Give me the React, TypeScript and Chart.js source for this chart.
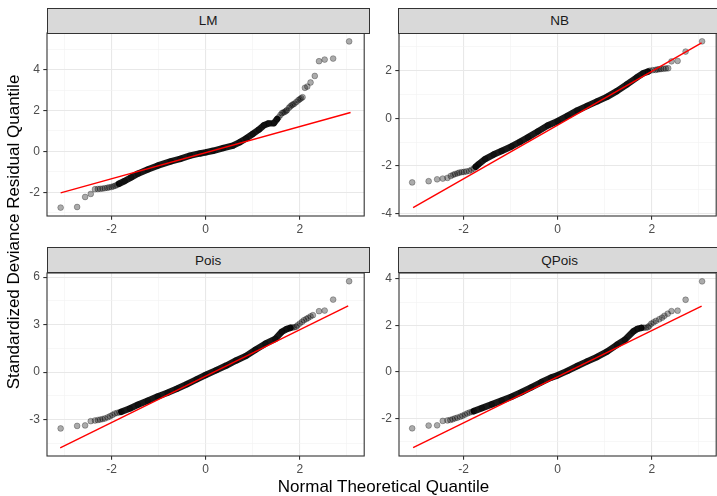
import React, { useEffect, useRef } from "react";
import { Chart, registerables } from "chart.js";

Chart.register(...registerables);

// ---------- data (normal theoretical quantile, standardized deviance residual) ----------
// LM
const lmLowX = [-3.08, -2.73, -2.56, -2.44, -2.35, -2.29, -2.24, -2.19, -2.14, -2.09, -2.05, -2.0, -1.96, -1.92, -1.88];
const lmLowY = [-2.75, -2.72, -2.23, -2.08, -1.85, -1.84, -1.83, -1.82, -1.8, -1.78, -1.76, -1.74, -1.71, -1.68, -1.64];
const lmBodyX = [-1.84, -1.72, -1.58, -1.44, -1.23, -1.02, -0.74, -0.54, -0.33, -0.12, 0, 0.16, 0.37, 0.58, 0.72, 0.86, 1.0, 1.13, 1.24, 1.34, 1.45, 1.52];
const lmBodyY = [-1.58, -1.45, -1.27, -1.09, -0.89, -0.7, -0.49, -0.37, -0.21, -0.1, -0.05, 0.03, 0.16, 0.28, 0.44, 0.63, 0.85, 1.06, 1.28, 1.37, 1.38, 1.58];
const lmHighX = [1.55, 1.59, 1.62, 1.65, 1.68, 1.71, 1.73, 1.77, 1.8, 1.83, 1.86, 1.89, 1.93, 1.97, 2.0, 2.03, 2.06, 2.11, 2.16, 2.23, 2.32, 2.41, 2.53, 2.71, 3.05];
const lmHighY = [1.66, 1.78, 1.87, 1.9, 1.93, 1.98, 2.02, 2.13, 2.2, 2.26, 2.3, 2.34, 2.42, 2.5, 2.55, 2.6, 2.65, 3.11, 3.17, 3.37, 3.69, 4.41, 4.49, 4.54, 5.38];
const lmRefX = [-3.08, 3.08];
const lmRefY = [-2.03, 1.9];

// NB
const nbLowX = [-3.09, -2.74, -2.56, -2.44, -2.34, -2.27, -2.22, -2.18, -2.13, -2.09, -2.04, -1.99, -1.94, -1.88, -1.83, -1.78];
const nbLowY = [-2.69, -2.64, -2.56, -2.53, -2.5, -2.42, -2.37, -2.34, -2.31, -2.28, -2.26, -2.25, -2.23, -2.21, -2.16, -2.11];
const nbBodyX = [-1.74, -1.68, -1.54, -1.36, -1.19, -0.98, -0.8, -0.63, -0.42, -0.21, 0, 0.21, 0.42, 0.63, 0.84, 1.05, 1.26, 1.47, 1.68, 1.82, 1.92];
const nbBodyY = [-2.03, -1.93, -1.71, -1.52, -1.37, -1.18, -0.99, -0.8, -0.55, -0.3, -0.12, 0.1, 0.33, 0.52, 0.71, 0.9, 1.14, 1.42, 1.71, 1.89, 1.96];
const nbHighX = [1.96, 2.02, 2.08, 2.12, 2.16, 2.2, 2.25, 2.3, 2.35, 2.42, 2.55, 2.72, 3.07];
const nbHighY = [2.0, 2.02, 2.03, 2.05, 2.06, 2.07, 2.08, 2.09, 2.1, 2.39, 2.41, 2.8, 3.23];
const nbRefX = [-3.07, 3.06];
const nbRefY = [-3.75, 3.17];

// Pois
const poisLowX = [-3.08, -2.73, -2.56, -2.44, -2.35, -2.29, -2.24, -2.19, -2.14, -2.08, -2.03, -1.98, -1.93, -1.88, -1.83];
const poisLowY = [-3.55, -3.39, -3.36, -3.09, -3.05, -3.02, -2.99, -2.96, -2.92, -2.85, -2.78, -2.7, -2.61, -2.57, -2.53];
const poisBodyX = [-1.79, -1.61, -1.44, -1.23, -1.02, -0.81, -0.61, -0.4, -0.19, 0, 0.23, 0.44, 0.65, 0.86, 1.06, 1.27, 1.48, 1.62, 1.72, 1.8];
const poisBodyY = [-2.5, -2.29, -2.06, -1.8, -1.53, -1.3, -1.05, -0.76, -0.45, -0.18, 0.13, 0.42, 0.74, 1.03, 1.42, 1.8, 2.1, 2.55, 2.72, 2.8];
const poisHighX = [1.84, 1.88, 1.92, 1.95, 2.0, 2.05, 2.09, 2.14, 2.18, 2.23, 2.28, 2.41, 2.53, 2.71, 3.05];
const poisHighY = [2.82, 2.83, 2.86, 2.95, 3.07, 3.18, 3.28, 3.36, 3.43, 3.52, 3.6, 3.85, 3.89, 4.58, 5.74];
const poisRefX = [-3.09, 3.03];
const poisRefY = [-4.77, 4.18];

// QPois
const qpLowX = [-3.09, -2.74, -2.56, -2.44, -2.34, -2.28, -2.23, -2.18, -2.13, -2.07, -2.02, -1.97, -1.92, -1.87, -1.82];
const qpLowY = [-2.43, -2.31, -2.3, -2.11, -2.09, -2.07, -2.04, -2.0, -1.97, -1.93, -1.89, -1.84, -1.79, -1.75, -1.72];
const qpBodyX = [-1.78, -1.61, -1.4, -1.19, -0.98, -0.77, -0.56, -0.35, -0.14, 0, 0.21, 0.42, 0.63, 0.84, 1.05, 1.26, 1.43, 1.61, 1.7, 1.78];
const qpBodyY = [-1.69, -1.56, -1.4, -1.24, -1.07, -0.88, -0.67, -0.45, -0.25, -0.15, 0.04, 0.25, 0.45, 0.64, 0.87, 1.16, 1.38, 1.74, 1.85, 1.89];
const qpHighX = [1.83, 1.88, 1.92, 1.95, 1.99, 2.04, 2.09, 2.16, 2.22, 2.27, 2.34, 2.42, 2.55, 2.72, 3.07];
const qpHighY = [1.9, 1.9, 1.92, 1.98, 2.07, 2.13, 2.19, 2.26, 2.33, 2.41, 2.5, 2.61, 2.63, 3.1, 3.89];
const qpRefX = [-3.07, 3.06];
const qpRefY = [-3.26, 2.83];

// axis settings
const xLimits = [-3.37, 3.37];
const xTickStep = 1;
const xMajorStep = 2;
const panelNames = ["LM", "NB", "Pois", "QPois"];
const yLimits = [
  [-3.16, 5.79],
  [-4.1, 3.58],
  [-5.29, 6.26],
  [-3.62, 4.25],
];
const yTickSteps = [1, 1, 1.5, 1];
const yMajorSteps = [2, 2, 3, 2];
const xTitle = "Normal Theoretical Quantile";
const yTitle = "Standardized Deviance Residual Quantile";

// ---------- layout ----------
const FONT = '"Liberation Sans", Arial, Helvetica, sans-serif';
const PW = 322.3; // panel width
const PH = 183; // panel height
const AXW = 40; // y-axis area width
const XAH = 26; // x-axis area height
const PADT = 12; // extra room above the panel for tick labels
const STRIP_H = 25.6;
const panelPos = [
  { left: 47, top: 33.3 },
  { left: 398.5, top: 33.3 },
  { left: 47, top: 272.7 },
  { left: 398.5, top: 272.7 },
];

const zip = (xs: number[], ys: number[]) => xs.map((x, i) => ({ x, y: ys[i] }));

const panelData = [
  { low: zip(lmLowX, lmLowY), body: zip(lmBodyX, lmBodyY), high: zip(lmHighX, lmHighY), ref: zip(lmRefX, lmRefY) },
  { low: zip(nbLowX, nbLowY), body: zip(nbBodyX, nbBodyY), high: zip(nbHighX, nbHighY), ref: zip(nbRefX, nbRefY) },
  { low: zip(poisLowX, poisLowY), body: zip(poisBodyX, poisBodyY), high: zip(poisHighX, poisHighY), ref: zip(poisRefX, poisRefY) },
  { low: zip(qpLowX, qpLowY), body: zip(qpBodyX, qpBodyY), high: zip(qpHighX, qpHighY), ref: zip(qpRefX, qpRefY) },
];

const isMajor = (v: number, step: number) => Math.abs(v / step - Math.round(v / step)) < 1e-6;

const borderPlugin = {
  id: "panelBorder",
  afterDraw(chart: any) {
    const { ctx, chartArea } = chart;
    ctx.save();
    ctx.strokeStyle = "#333333";
    ctx.lineWidth = 1.1;
    ctx.strokeRect(chartArea.left, chartArea.top, chartArea.right - chartArea.left, chartArea.bottom - chartArea.top);
    ctx.restore();
  },
};

function Panel({ idx }: { idx: number }) {
  const ref = useRef<HTMLCanvasElement>(null);
  const pos = panelPos[idx];
  const d = panelData[idx];

  useEffect(() => {
    if (!ref.current) return;
    const yMajor = yMajorSteps[idx];
    const gridOpts = (major: number) => ({
      color: (c: any) => (c.tick && isMajor(c.tick.value, major) ? "#e8e8e8" : "#f2f2f2"),
      lineWidth: (c: any) => (c.tick && isMajor(c.tick.value, major) ? 1.1 : 0.6),
      tickColor: (c: any) => (c.tick && isMajor(c.tick.value, major) ? "#333333" : "rgba(0,0,0,0)"),
      tickWidth: 1.1,
      tickLength: 3.7,
      drawTicks: true,
      drawOnChartArea: true,
    });
    const tickFont = { family: FONT, size: 12 };
    const chart = new Chart(ref.current, {
      type: "scatter",
      data: {
        datasets: [
          {
            type: "line",
            label: "reference",
            data: d.ref,
            borderColor: "#ff0000",
            borderWidth: 1.4,
            pointRadius: 0,
            showLine: true,
          } as any,
          {
            label: "points",
            data: [...d.low, ...d.body, ...d.high],
            pointBackgroundColor: "rgba(0,0,0,0.33)",
            pointBorderColor: "rgba(0,0,0,0.36)",
            pointBorderWidth: 0.8,
            pointRadius: 2.9,
            showLine: false,
          },
          {
            type: "line",
            label: "dense",
            data: d.body,
            borderColor: "rgba(0,0,0,0.9)",
            borderWidth: 6.5,
            borderCapStyle: "round",
            borderJoinStyle: "round",
            pointRadius: 0,
            showLine: true,
            tension: 0,
          } as any,
        ],
      },
      options: {
        animation: false,
        responsive: false,
        devicePixelRatio: 1,
        layout: { padding: { top: PADT, left: 0, right: 0, bottom: 0 } },
        plugins: { legend: { display: false }, tooltip: { enabled: false }, title: { display: false } },
        scales: {
          x: {
            type: "linear",
            position: "bottom",
            min: xLimits[0],
            max: xLimits[1],
            border: { display: false },
            grid: gridOpts(xMajorStep) as any,
            ticks: {
              stepSize: xTickStep,
              includeBounds: false,
              autoSkip: false,
              maxRotation: 0,
              padding: 2.5,
              color: "#4d4d4d",
              font: tickFont,
              callback: (v: any) => (isMajor(Number(v), xMajorStep) ? String(Math.round(Number(v))) : ""),
            },
            afterFit: (s: any) => {
              s.height = XAH;
              s.paddingLeft = 0;
              s.paddingRight = 0;
            },
          },
          y: {
            type: "linear",
            position: "left",
            min: yLimits[idx][0],
            max: yLimits[idx][1],
            border: { display: false },
            grid: gridOpts(yMajor) as any,
            ticks: {
              stepSize: yTickSteps[idx],
              includeBounds: false,
              autoSkip: false,
              padding: 3.5,
              color: "#4d4d4d",
              font: tickFont,
              callback: (v: any) => (isMajor(Number(v), yMajor) ? String(Math.round(Number(v))) : ""),
            },
            afterFit: (s: any) => {
              s.width = AXW;
              s.paddingTop = 0;
              s.paddingBottom = 0;
            },
          },
        },
      },
      plugins: [borderPlugin],
    });
    return () => chart.destroy();
  }, []);

  const cw = Math.round(AXW + PW);
  const ch = Math.round(PADT + PH + XAH);
  return (
    <>
      <canvas
        ref={ref}
        width={cw}
        height={ch}
        style={{ position: "absolute", left: pos.left - AXW, top: pos.top - PADT, width: cw, height: ch }}
      />
      <div
        style={{
          position: "absolute",
          left: pos.left - 0.5,
          top: pos.top - STRIP_H,
          width: PW + 1,
          height: STRIP_H + 0.5,
          boxSizing: "border-box",
          border: "1.1px solid #333333",
          background: "#d9d9d9",
          display: "flex",
          alignItems: "center",
          justifyContent: "center",
          fontFamily: FONT,
          fontSize: 13.5,
          color: "#1a1a1a",
        }}
      >
        {panelNames[idx]}
      </div>
    </>
  );
}

export default function App() {
  return (
    <div
      style={{
        position: "fixed",
        left: 0,
        top: 0,
        width: 717,
        height: 496,
        overflow: "hidden",
        background: "#ffffff",
      }}
    >
      {[0, 1, 2, 3].map((i) => (
        <Panel key={i} idx={i} />
      ))}
      <div
        style={{
          position: "absolute",
          left: 47,
          width: 673,
          top: 476,
          height: 22,
          textAlign: "center",
          fontFamily: FONT,
          fontSize: 17,
          lineHeight: "22px",
          color: "#000000",
          whiteSpace: "nowrap",
        }}
      >
        {xTitle}
      </div>
      <div
        style={{
          position: "absolute",
          left: 14 - 224,
          top: 231.7 - 11,
          width: 448,
          height: 22,
          textAlign: "center",
          fontFamily: FONT,
          fontSize: 17,
          lineHeight: "22px",
          color: "#000000",
          whiteSpace: "nowrap",
          transform: "rotate(-90deg)",
          transformOrigin: "50% 50%",
        }}
      >
        {yTitle}
      </div>
    </div>
  );
}
